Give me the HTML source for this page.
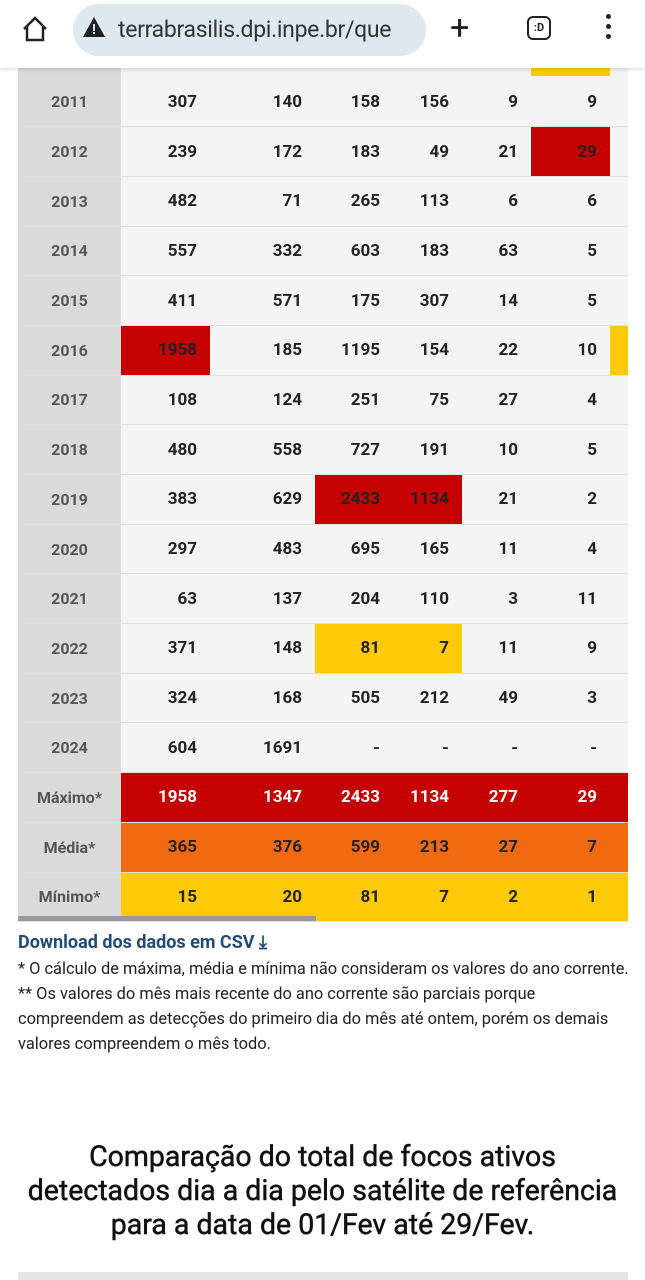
<!DOCTYPE html>
<html><head><meta charset="utf-8"><style>
*{margin:0;padding:0;box-sizing:border-box}
body{width:645px;height:1280px;background:#fff;font-family:"Roboto","Liberation Sans",sans-serif;position:relative;overflow:hidden;color:#222}
.bar{position:absolute;left:0;top:0;width:645px;height:68px;background:#fff;box-shadow:0 2px 3px rgba(0,0,0,.12);z-index:5}
.pill{position:absolute;left:73px;top:4px;width:353px;height:52px;border-radius:26px;background:#dde8ef}
.url{position:absolute;left:118px;top:16px;font-size:23px;color:#333;letter-spacing:-0.3px}
table{position:absolute;left:18px;top:77px;border-collapse:collapse;table-layout:fixed}
td{height:49.7px;background:#f4f4f4;border-bottom:1.5px solid #e0e0e0;text-align:right;padding-right:13px;font-size:17px;font-weight:bold;color:#222}
td.y{background:#dadada;text-align:center;padding:0;color:#555;font-weight:bold;font-size:16px}
.r{background:#c40000!important}.o{background:#f26a10!important}.g{background:#ffca08!important}
.sum td{color:#fff}.sum.m td{color:#222}.sum.n td{color:#222}
.sum td.y{color:#555}
.note{position:absolute;left:18px;font-size:16.4px;color:#222;line-height:25px;white-space:nowrap}
</style></head><body>
<div class="bar"><div class="pill"></div>
<svg style="position:absolute;left:20px;top:14px" width="30" height="30" viewBox="0 0 30 30"><path d="M4 15 L15 4 L26 15 M7 12 V26 H23 V12" fill="none" stroke="#222" stroke-width="2.5"/></svg>
<svg style="position:absolute;left:82px;top:16px" width="24" height="22"><path d="M12 1 L23 21 H1 Z" fill="#222"/><rect x="11" y="8" width="2" height="7" fill="#dde8ef"/><rect x="11" y="16" width="2" height="2" fill="#dde8ef"/></svg>
<div class="url">terrabrasilis.dpi.inpe.br/que</div>
<div style="position:absolute;left:450px;top:8px;font-size:34px;color:#222">+</div>
<div style="position:absolute;left:527px;top:16px;width:24px;height:24px;border:2.5px solid #222;border-radius:6px;font-size:11px;font-weight:bold;text-align:center;line-height:19px">:D</div>
<div style="position:absolute;left:606px;top:14px;width:5px;height:5px;border-radius:50%;background:#222;box-shadow:0 10px 0 #222,0 20px 0 #222"></div>
</div>
<div style="position:absolute;left:18px;top:68px;width:610px;height:9px;background:#f4f4f4"></div>
<div style="position:absolute;left:18px;top:68px;width:103px;height:9px;background:#dadada"></div>
<div style="position:absolute;left:531px;top:68px;width:79px;height:8px;background:#ffca08"></div>
<table>
<colgroup><col style="width:103px"><col style="width:89px"><col style="width:105px"><col style="width:78px"><col style="width:69px"><col style="width:69px"><col style="width:79px"><col style="width:18px"></colgroup>
<tr><td class="y">2011</td><td>307</td><td>140</td><td>158</td><td>156</td><td>9</td><td>9</td><td></td></tr>
<tr><td class="y">2012</td><td>239</td><td>172</td><td>183</td><td>49</td><td>21</td><td class="r" style="color:#222">29</td><td></td></tr>
<tr><td class="y">2013</td><td>482</td><td>71</td><td>265</td><td>113</td><td>6</td><td>6</td><td></td></tr>
<tr><td class="y">2014</td><td>557</td><td>332</td><td>603</td><td>183</td><td>63</td><td>5</td><td></td></tr>
<tr><td class="y">2015</td><td>411</td><td>571</td><td>175</td><td>307</td><td>14</td><td>5</td><td></td></tr>
<tr><td class="y">2016</td><td class="r">1958</td><td>185</td><td>1195</td><td>154</td><td>22</td><td>10</td><td class="g"></td></tr>
<tr><td class="y">2017</td><td>108</td><td>124</td><td>251</td><td>75</td><td>27</td><td>4</td><td></td></tr>
<tr><td class="y">2018</td><td>480</td><td>558</td><td>727</td><td>191</td><td>10</td><td>5</td><td></td></tr>
<tr><td class="y">2019</td><td>383</td><td>629</td><td class="r">2433</td><td class="r">1134</td><td>21</td><td>2</td><td></td></tr>
<tr><td class="y">2020</td><td>297</td><td>483</td><td>695</td><td>165</td><td>11</td><td>4</td><td></td></tr>
<tr><td class="y">2021</td><td>63</td><td>137</td><td>204</td><td>110</td><td>3</td><td>11</td><td></td></tr>
<tr><td class="y">2022</td><td>371</td><td>148</td><td class="g">81</td><td class="g">7</td><td>11</td><td>9</td><td></td></tr>
<tr><td class="y">2023</td><td>324</td><td>168</td><td>505</td><td>212</td><td>49</td><td>3</td><td></td></tr>
<tr><td class="y">2024</td><td>604</td><td>1691</td><td>-</td><td>-</td><td>-</td><td>-</td><td></td></tr>
<tr class="sum"><td class="y">Máximo*</td><td class="r">1958</td><td class="r">1347</td><td class="r">2433</td><td class="r">1134</td><td class="r">277</td><td class="r">29</td><td class="r"></td></tr>
<tr class="sum m"><td class="y">Média*</td><td class="o">365</td><td class="o">376</td><td class="o">599</td><td class="o">213</td><td class="o">27</td><td class="o">7</td><td class="o"></td></tr>
<tr class="sum n"><td class="y">Mínimo*</td><td class="g">15</td><td class="g">20</td><td class="g">81</td><td class="g">7</td><td class="g">2</td><td class="g">1</td><td class="g"></td></tr>
</table>
<div style="position:absolute;left:18px;top:916px;width:298px;height:5px;background:#999"></div>
<div class="note" style="top:930px;font-size:18px;font-weight:bold;color:#1f4a7a">Download dos dados em CSV <span style="font-size:18px">⤓</span></div>
<div class="note" style="top:957px">* O cálculo de máxima, média e mínima não consideram os valores do ano corrente.<br>** Os valores do mês mais recente do ano corrente são parciais porque<br>compreendem as detecções do primeiro dia do mês até ontem, porém os demais<br>valores compreendem o mês todo.</div>
<div style="position:absolute;left:0;top:1140px;width:645px;text-align:center;font-size:28.5px;line-height:34px;color:#111;font-weight:normal;-webkit-text-stroke:0.5px #111;white-space:nowrap">Comparação do total de focos ativos<br>detectados dia a dia pelo satélite de referência<br>para a data de 01/Fev até 29/Fev.</div>
<div style="position:absolute;left:18px;top:1272px;width:610px;height:8px;background:#e6e6e6"></div>
</body></html>
